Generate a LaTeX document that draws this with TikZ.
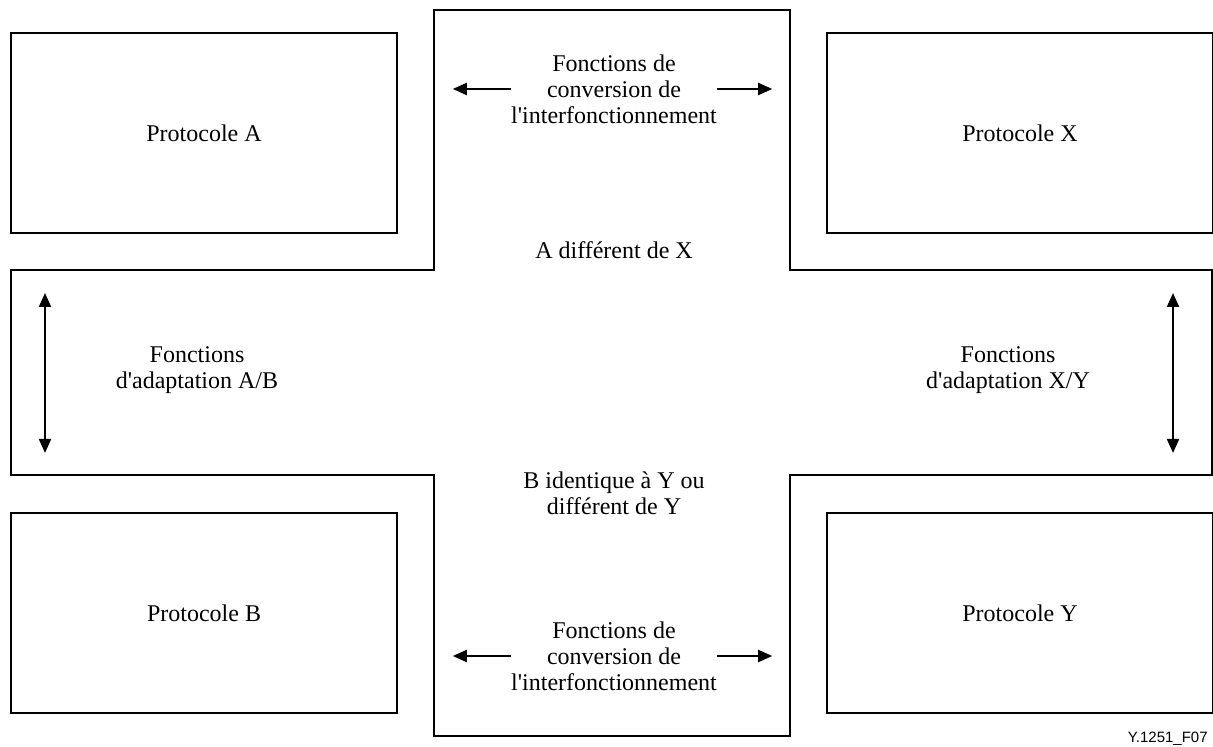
\documentclass[tikz,border=0pt]{standalone}
\usepackage{fontspec}
\setmainfont{Liberation Serif}
\newfontfamily\figreffont{Liberation Sans}
\usetikzlibrary{arrows.meta,positioning}

\begin{document}
\begin{tikzpicture}[x=0.5pt,y=-0.5pt,
    protobox/.style={draw,line width=0.6pt,minimum width=193pt,minimum height=100pt,
      inner sep=0pt,font=\fontsize{12}{13}\selectfont},
    funclabel/.style={align=center,inner sep=0pt,font=\fontsize{12}{13}\selectfont},
    funcarrow/.style={line width=1pt,-{Triangle[length=7pt,width=6pt]}},
    adaptarrow/.style={line width=1pt,
      {Triangle[length=7pt,width=6pt]}-{Triangle[length=7pt,width=6pt]}}]
  \useasboundingbox (0,0) rectangle (1213,747);

  % Drawing the cross outline
  \draw [line width=0.6pt] (434,10) -- (790,10) -- (790,270) -- (1212,270)
    -- (1212,475) -- (790,475) -- (790,736) -- (434,736) -- (434,475)
    -- (11,475) -- (11,270) -- (434,270) -- cycle;

  % Protocol boxes
  \node [protobox] (protA) at (204,133) {Protocole A};
  \node [protobox] (protX) at (1020,133) {Protocole X};
  \node [protobox] (protB) at (204,613) {Protocole B};
  \node [protobox] (protY) at (1020,613) {Protocole Y};

  % Conversion functions, top
  \node [funclabel] (convtop) at (614,89)
    {Fonctions de\\conversion de\\l\textquotesingle interfonctionnement};
  \coordinate [left=29pt of convtop.west] (convtopL);
  \coordinate [right=27.5pt of convtop.east] (convtopR);
  \draw [funcarrow] (convtop.west) -- (convtopL);
  \draw [funcarrow] (convtop.east) -- (convtopR);

  % Conversion functions, bottom
  \node [funclabel] (convbot) at (614,656)
    {Fonctions de\\conversion de\\l\textquotesingle interfonctionnement};
  \coordinate [left=29pt of convbot.west] (convbotL);
  \coordinate [right=27.5pt of convbot.east] (convbotR);
  \draw [funcarrow] (convbot.west) -- (convbotL);
  \draw [funcarrow] (convbot.east) -- (convbotR);

  % Remarks in the middle
  \node [funclabel] (diffAX) at (614,250) {A différent de X};
  \node [funclabel] (identBY) at (614,493) {B identique à Y ou\\différent de Y};

  % Adaptation functions A/B
  \node [funclabel] (adaptAB) at (197,370) {Fonctions\\d\textquotesingle adaptation A/B};
  \coordinate (adaptABtop) at (45,293);
  \coordinate (adaptABbot) at (45,453);
  \draw [adaptarrow] (adaptABtop) -- (adaptABbot);

  % Adaptation functions X/Y
  \node [funclabel] (adaptXY) at (1008,370) {Fonctions\\d\textquotesingle adaptation X/Y};
  \coordinate (adaptXYtop) at (1173,293);
  \coordinate (adaptXYbot) at (1173,453);
  \draw [adaptarrow] (adaptXYtop) -- (adaptXYbot);

  % Figure reference
  \node [anchor=east,inner sep=0pt,font=\figreffont\fontsize{7.5}{9}\selectfont]
    (figref) at (1208,739) {Y.1251\_F07};
\end{tikzpicture}
\end{document}
